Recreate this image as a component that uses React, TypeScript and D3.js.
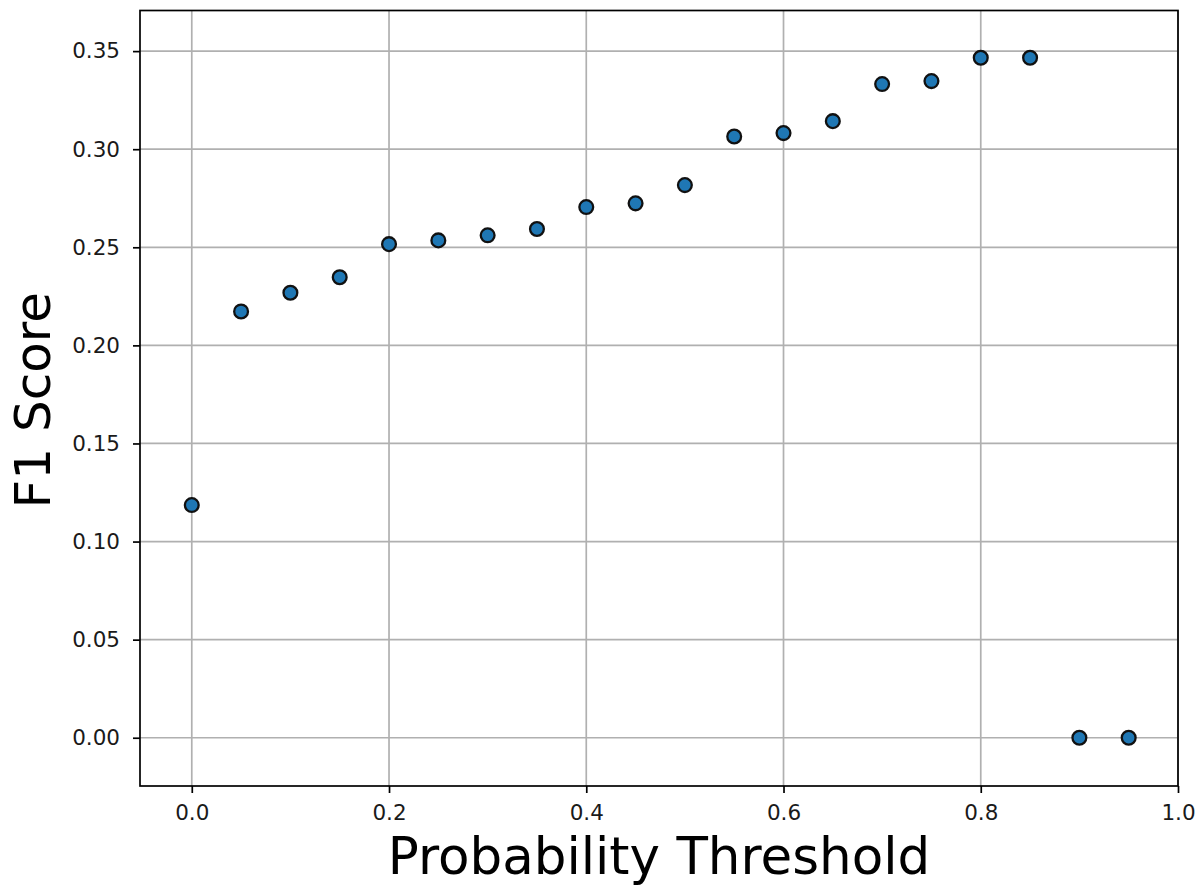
import React, { useRef, useEffect } from "react";
import * as d3 from "d3";

// probability thresholds and the F1 score at each one
const thresholds = [0.0, 0.05, 0.1, 0.15, 0.2, 0.25, 0.3, 0.35, 0.4, 0.45, 0.5, 0.55, 0.6, 0.65, 0.7, 0.75, 0.8, 0.85, 0.9, 0.95];
const f1Scores = [0.1186, 0.2173, 0.2268, 0.2347, 0.2516, 0.2535, 0.2561, 0.2593, 0.2705, 0.2724, 0.2817, 0.3065, 0.3082, 0.3143, 0.3332, 0.3347, 0.3466, 0.3466, 0.0, 0.0];

const xTicks = [0.0, 0.2, 0.4, 0.6, 0.8, 1.0];
const yTicks = [0.0, 0.05, 0.1, 0.15, 0.2, 0.25, 0.3, 0.35];

const width = 1204;
const height = 886;
const font = "'DejaVu Sans', sans-serif";

const App = () => {
    const plot = useRef<SVGSVGElement | null>(null);

    useEffect(() => {
        const svg = d3.select(plot.current);
        svg.selectAll("*").remove();

        const left = 140, right = 1178, top = 10.5, bottom = 786;

        const x = d3.scaleLinear().domain([-0.0525, 1.0]).range([left, right]);
        const y = d3.scaleLinear().domain([-0.0246, 0.3707]).range([bottom, top]);

        // grid lines
        const grid = svg.append("g");
        grid.selectAll(".vgrid")
            .data(xTicks)
            .join("line")
            .attr("x1", d => x(d)).attr("x2", d => x(d))
            .attr("y1", top).attr("y2", bottom)
            .attr("stroke", "#b0b0b0").attr("stroke-width", 1.7);
        grid.selectAll(".hgrid")
            .data(yTicks)
            .join("line")
            .attr("x1", left).attr("x2", right)
            .attr("y1", d => y(d)).attr("y2", d => y(d))
            .attr("stroke", "#b0b0b0").attr("stroke-width", 1.7);

        // points
        const points = thresholds.map((t, i) => ({ t, v: f1Scores[i] }));
        svg.append("g")
            .selectAll("circle")
            .data(points)
            .join("circle")
            .attr("cx", d => x(d.t))
            .attr("cy", d => y(d.v))
            .attr("r", 6.9)
            .attr("fill", "#1f77b4")
            .attr("stroke", "#111")
            .attr("stroke-width", 2.3);

        // axes
        const xAxis = d3.axisBottom(x).tickValues(xTicks).tickFormat(d3.format(".1f"))
            .tickSizeInner(7).tickSizeOuter(0).tickPadding(12);
        const yAxis = d3.axisLeft(y).tickValues(yTicks).tickFormat(d3.format(".2f"))
            .tickSizeInner(7).tickSizeOuter(0).tickPadding(13);

        svg.append("g")
            .attr("transform", `translate(0, ${bottom})`)
            .call(xAxis)
            .call(g => g.select(".domain").remove());
        svg.append("g")
            .attr("transform", `translate(${left}, 0)`)
            .call(yAxis)
            .call(g => g.select(".domain").remove());

        svg.selectAll(".tick line").attr("stroke", "#000").attr("stroke-width", 1.7);
        svg.selectAll(".tick text")
            .attr("font-family", font)
            .attr("font-size", 21.5)
            .attr("fill", "#1a1a1a");

        // frame
        svg.append("rect")
            .attr("x", left).attr("y", top)
            .attr("width", right - left).attr("height", bottom - top)
            .attr("fill", "none")
            .attr("stroke", "#000")
            .attr("stroke-width", 1.7);

        // labels
        svg.append("text")
            .attr("x", (left + right) / 2)
            .attr("y", 874)
            .attr("text-anchor", "middle")
            .attr("font-family", font)
            .attr("font-size", 51.5)
            .attr("fill", "#000")
            .text("Probability Threshold");

        svg.append("text")
            .attr("transform", `translate(50, ${(top + bottom) / 2 + 2}) rotate(-90)`)
            .attr("text-anchor", "middle")
            .attr("font-family", font)
            .attr("font-size", 50)
            .attr("fill", "#000")
            .text("F1 Score");
    }, []);

    return (
        <svg ref={plot} width={width} height={height}
            style={{ position: "absolute", left: 0, top: 0, background: "#fff" }} />
    );
};

export default App;
